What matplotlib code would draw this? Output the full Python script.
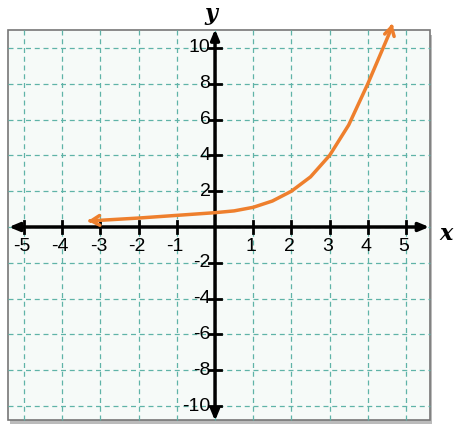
import matplotlib.pyplot as plt
from matplotlib.patches import Rectangle

# values
curve_x = [-3.2, -2, -1, 0, 0.5, 1, 1.5, 2, 2.5, 3, 3.5, 4, 4.3, 4.6]
curve_y = [0.35, 0.5, 0.65, 0.8, 0.9, 1.1, 1.45, 2.0, 2.8, 4.0, 5.7, 8.0, 9.5, 11.0]
x_ticks = [-5, -4, -3, -2, -1, 1, 2, 3, 4, 5]
y_ticks = [-10, -8, -6, -4, -2, 2, 4, 6, 8, 10]

ORANGE = '#EE7F2D'
GRID = '#5FB3A8'

fig = plt.figure(figsize=(4.74, 4.42), dpi=100, facecolor='white')
ax = fig.add_axes([0, 0, 1, 1])
ax.set_xlim(-5.63, 6.78)
ax.set_ylim(-12.01, 12.68)
ax.axis('off')

left, right, bottom, top = -5.42, 5.63, -10.78, 11.0
ax.add_patch(Rectangle((left + 0.05, bottom - 0.25), right - left, top - bottom,
                       facecolor='#BBBBBB', edgecolor='none', zorder=0))
ax.add_patch(Rectangle((left, bottom), right - left, top - bottom,
                       facecolor='#F6FAF8', edgecolor='#777777', lw=1.2, zorder=1))

for gx in range(-5, 6):
    ax.plot([gx, gx], [bottom, top], color=GRID, lw=0.9, ls=(0, (4, 3)), zorder=2)
for gy in range(-10, 11, 2):
    ax.plot([left, right], [gy, gy], color=GRID, lw=0.9, ls=(0, (4, 3)), zorder=2)

# axes with arrows
ax.annotate('', xy=(right + 0.05, 0), xytext=(left - 0.05, 0),
            arrowprops=dict(arrowstyle='<|-|>,head_length=0.6,head_width=0.25',
                            color='black', lw=2.5), zorder=3)
ax.annotate('', xy=(0, top + 0.2), xytext=(0, bottom - 0.2),
            arrowprops=dict(arrowstyle='<|-|>,head_length=0.6,head_width=0.25',
                            color='black', lw=2.5), zorder=3)

for t in x_ticks:
    ax.plot([t, t], [-0.35, 0.35], color='black', lw=2, zorder=3)
    ax.text(t - 0.05, -0.6, str(t), ha='center', va='top', fontsize=14,
            family='Liberation Sans', zorder=4)
for t in y_ticks:
    ax.plot([-0.15, 0.15], [t, t], color='black', lw=2, zorder=3)
    ax.text(-0.12, t, str(t), ha='right', va='center', fontsize=14,
            family='Liberation Sans', zorder=4)

ax.text(6.05, -0.4, 'x', fontsize=16, style='italic', weight='bold',
        family='DejaVu Serif', ha='center', va='center')
ax.text(-0.1, 11.9, 'y', fontsize=16, style='italic', weight='bold',
        family='DejaVu Serif', ha='center', va='center')

ax.plot(curve_x, curve_y, color=ORANGE, lw=2.5, zorder=5, solid_capstyle='round')
ax.annotate('', xy=(curve_x[0] - 0.2, curve_y[0] - 0.02), xytext=(curve_x[0], curve_y[0]),
            arrowprops=dict(arrowstyle='->,head_length=0.6,head_width=0.35',
                            color=ORANGE, lw=2.5), zorder=5)
ax.annotate('', xy=(curve_x[-1] + 0.06, curve_y[-1] + 0.5), xytext=(curve_x[-1], curve_y[-1]),
            arrowprops=dict(arrowstyle='->,head_length=0.6,head_width=0.35',
                            color=ORANGE, lw=2.5), zorder=5)

fig.savefig('out.png', dpi=100, facecolor='white')
